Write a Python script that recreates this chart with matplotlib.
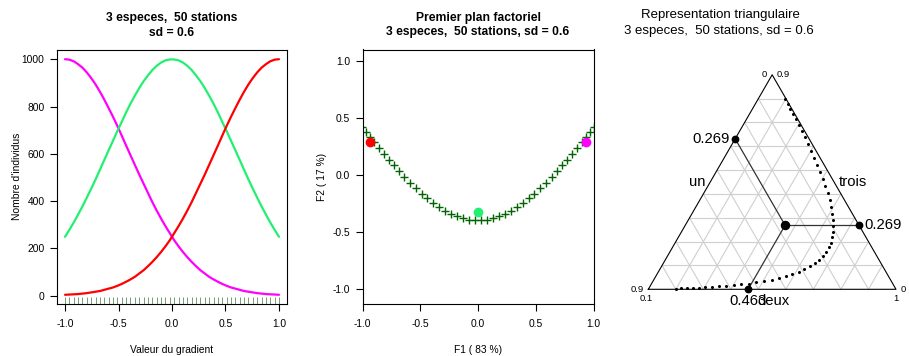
import numpy as np
import matplotlib
matplotlib.use("Agg")
import matplotlib.pyplot as plt

plt.rcParams['font.family'] = ['Liberation Sans', 'DejaVu Sans']

# Station positions along the gradient (50 stations)
gradient = [-1.000, -0.959, -0.918, -0.878, -0.837, -0.796, -0.755, -0.714, -0.673, -0.633,
            -0.592, -0.551, -0.510, -0.469, -0.429, -0.388, -0.347, -0.306, -0.265, -0.224,
            -0.184, -0.143, -0.102, -0.061, -0.020, 0.020, 0.061, 0.102, 0.143, 0.184,
            0.224, 0.265, 0.306, 0.347, 0.388, 0.429, 0.469, 0.510, 0.551, 0.592,
            0.633, 0.673, 0.714, 0.755, 0.796, 0.837, 0.878, 0.918, 0.959, 1.000]

# Abundances of the three species at each station
un = [1000, 998, 991, 979, 964, 944, 920, 893, 862, 829,
      793, 756, 717, 676, 635, 594, 553, 512, 473, 434,
      396, 360, 326, 294, 264, 235, 209, 185, 163, 143,
      125, 108, 94, 80, 69, 59, 50, 42, 35, 30,
      25, 20, 17, 14, 11, 9, 7, 6, 5, 4]
deux = [249, 279, 310, 343, 378, 415, 453, 492, 533, 574,
        615, 656, 697, 736, 775, 812, 846, 878, 907, 932,
        954, 972, 986, 995, 999, 999, 995, 986, 972, 954,
        932, 907, 878, 846, 812, 775, 736, 697, 656, 615,
        574, 533, 492, 453, 415, 378, 343, 310, 279, 249]
trois = [4, 5, 6, 7, 9, 11, 14, 17, 20, 25,
         30, 35, 42, 50, 59, 69, 80, 94, 108, 125,
         143, 163, 185, 209, 235, 264, 294, 326, 360, 396,
         434, 473, 512, 553, 594, 635, 676, 717, 756, 793,
         829, 862, 893, 920, 944, 964, 979, 991, 998, 1000]

species = ["un", "deux", "trois"]
species_colors = ["#FF00FF", "#22F070", "#FF0000"]

x_ticks = [-1.0, -0.5, 0.0, 0.5, 1.0]
x_ticklabels = ["-1.0", "-0.5", "0.0", "0.5", "1.0"]
y_ticks_counts = [0, 200, 400, 600, 800, 1000]
y_ticks_ca = [-1.0, -0.5, 0.0, 0.5, 1.0]
y_ticklabels_ca = ["-1.0", "-0.5", "0.0", "0.5", "1.0"]

# Triangle frame: lower bounds of each axis, common width
tri_min = [0.0, 0.1, 0.0]
tri_width = 0.9

W, H = 909, 356
fig = plt.figure(figsize=(W / 100, H / 100), dpi=100)


def px_axes(x0, y0, x1, y1):
    return fig.add_axes([x0 / W, 1 - y1 / H, (x1 - x0) / W, (y1 - y0) / H])


tick_fs = 7.4
lab_fs = 7.4
title_fs = 8.7


def style_axes(ax):
    for s in ax.spines.values():
        s.set_linewidth(0.8)
    ax.tick_params(direction='out', length=5, width=0.8, labelsize=tick_fs)
    ax.tick_params(axis='x', pad=5.5)
    ax.tick_params(axis='y', pad=4)


# ---------- Panel 1 : response curves ----------
ax1 = px_axes(57, 49.5, 287, 304)
table = np.column_stack([un, deux, trois]).astype(float)
for k in range(3):
    ax1.plot(gradient, table[:, k], color=species_colors[k], lw=1.6, solid_capstyle='round')
ax1.vlines(gradient, 0, 0.028, transform=ax1.get_xaxis_transform(),
           color="#5f8f5f", lw=0.6)
ax1.set_xlim(-1.075, 1.075)
ax1.set_ylim(-35, 1041)
ax1.set_xticks(x_ticks)
ax1.set_xticklabels(x_ticklabels)
ax1.set_yticks(y_ticks_counts)
style_axes(ax1)
ax1.set_xlabel("Valeur du gradient", fontsize=lab_fs, labelpad=11.5)
ax1.set_ylabel("Nombre d'individus", fontsize=lab_fs, labelpad=0)
fig.text(172 / W, 1 - 18.3 / H, "3 especes,  50 stations", ha='center', va='center',
         fontsize=title_fs, fontweight='bold')
fig.text(172 / W, 1 - 32.7 / H, "sd = 0.6", ha='center', va='center',
         fontsize=title_fs, fontweight='bold')

# ---------- Panel 2 : correspondence analysis ----------
P = table / table.sum()
r = P.sum(axis=1)
c = P.sum(axis=0)
S = (P - np.outer(r, c)) / np.sqrt(np.outer(r, c))
U, sv, Vt = np.linalg.svd(S, full_matrices=False)
eig = sv ** 2
pct = 100 * eig / eig.sum()
rows = U[:, :2] * sv[:2] / np.sqrt(r)[:, None]
cols = Vt.T[:, :2] * sv[:2] / np.sqrt(c)[:, None]
s1 = -np.sign(cols[2, 0])
s2 = -np.sign(cols[1, 1])
rows = rows * np.array([s1, s2])
cols = cols * np.array([s1, s2])

ax2 = px_axes(362.5, 49.5, 593.5, 304)
ax2.plot(rows[:, 0], rows[:, 1], ls='none', marker='+', ms=6, mew=1.0, color="#006400")
for k in range(3):
    ax2.plot(cols[k, 0], cols[k, 1], ls='none', marker='o', ms=7,
             color=species_colors[k], mec='none')
ax2.set_xlim(-1.0, 1.0)
ax2.set_ylim(-1.128, 1.10)
ax2.set_xticks(x_ticks)
ax2.set_xticklabels(x_ticklabels)
ax2.set_yticks(y_ticks_ca)
ax2.set_yticklabels(y_ticklabels_ca)
style_axes(ax2)
ax2.set_xlabel(f"F1 ( {pct[0]:.0f} %)", fontsize=lab_fs, labelpad=11.5)
ax2.set_ylabel(f"F2 ( {pct[1]:.0f} %)", fontsize=lab_fs, labelpad=3.6)
fig.text(478 / W, 1 - 18.3 / H, "Premier plan factoriel", ha='center', va='center',
         fontsize=title_fs, fontweight='bold')
fig.text(478 / W, 1 - 32.5 / H, "3 especes,  50 stations, sd = 0.6", ha='center',
         va='center', fontsize=title_fs, fontweight='bold')

# ---------- Panel 3 : triangular plot ----------
side = 247.7
ax3 = px_axes(620, 40, 909, 330)
ax3.set_xlim((620 - 648.3) / side, (909 - 648.3) / side)
ax3.set_ylim((289.3 - 330) / side, (289.3 - 40) / side)
ax3.axis('off')

A = np.array([0.0, 0.0])
B = np.array([1.0, 0.0])
C = np.array([0.5, np.sqrt(3) / 2])


def to_tri(p):
    a = (p[..., 0] - tri_min[0]) / tri_width
    b = (p[..., 1] - tri_min[1]) / tri_width
    cc = (p[..., 2] - tri_min[2]) / tri_width
    x = a * A[0] + b * B[0] + cc * C[0]
    y = a * A[1] + b * B[1] + cc * C[1]
    return x, y


# grid
grid_col = "#CFCFCF"
for k in range(1, 9):
    t = k / 9
    for p, q in [(A + t * (C - A), B + t * (C - B)),
                 (A + t * (B - A), A + t * (C - A)),
                 (B + t * (A - B), B + t * (C - B))]:
        ax3.plot([p[0], q[0]], [p[1], q[1]], color=grid_col, lw=0.8, zorder=1)
ax3.plot([A[0], B[0], C[0], A[0]], [A[1], B[1], C[1], A[1]], color='black', lw=0.8, zorder=2)

prop = table / table.sum(axis=1, keepdims=True)
tx, ty = to_tri(prop)
ax3.plot(tx, ty, ls='none', marker='o', ms=2.2, color='black', mec='none', zorder=4)

mean = prop.mean(axis=0)
mx, my = to_tri(mean)
p_un = C + (mean[0] - tri_min[0]) / tri_width * (A - C)
p_deux = A + (mean[1] - tri_min[1]) / tri_width * (B - A)
p_trois = B + (mean[2] - tri_min[2]) / tri_width * (C - B)
for p in (p_un, p_deux, p_trois):
    ax3.plot([mx, p[0]], [my, p[1]], color='#333333', lw=0.9, zorder=3)
    ax3.plot(p[0], p[1], ls='none', marker='o', ms=4.6, color='black', zorder=5)
ax3.plot(mx, my, ls='none', marker='o', ms=5.8, color='black', zorder=5)

big = 10.7
off = 0.02
ax3.text(p_un[0] - off, p_un[1], f"{mean[0]:.3f}", ha='right', va='center', fontsize=big)
ax3.text(p_trois[0] + off, p_trois[1], f"{mean[2]:.3f}", ha='left', va='center', fontsize=big)
ax3.text(p_deux[0], p_deux[1] - off, f"{mean[1]:.3f}", ha='center', va='top', fontsize=big)

mAC = (A + C) / 2
mBC = (B + C) / 2
mAB = (A + B) / 2
ax3.text(mAC[0] - off, mAC[1], species[0], ha='right', va='center', fontsize=big)
ax3.text(mBC[0] + off, mBC[1], species[2], ha='left', va='center', fontsize=big)
ax3.text(mAB[0] + 0.005, mAB[1] - off, species[1], ha='center', va='top', fontsize=big)

small = 6.8
fmt = lambda v: f"{v:g}"
ax3.text(C[0] - 0.022, C[1], fmt(tri_min[0]), ha='right', va='center', fontsize=small)
ax3.text(C[0] + 0.018, C[1], fmt(tri_min[2] + tri_width), ha='left', va='center', fontsize=small)
ax3.text(A[0] - 0.018, A[1], fmt(tri_min[0] + tri_width), ha='right', va='center', fontsize=small)
ax3.text(A[0] - 0.01, A[1] - 0.018, fmt(tri_min[1]), ha='center', va='top', fontsize=small)
ax3.text(B[0], B[1] - 0.018, fmt(tri_min[1] + tri_width), ha='center', va='top', fontsize=small)
ax3.text(B[0] + 0.018, B[1], fmt(tri_min[2]), ha='left', va='center', fontsize=small)

fig.text(720 / W, 1 - 15 / H, "Representation triangulaire", ha='center', va='center',
         fontsize=9.5)
fig.text(719 / W, 1 - 31 / H, "3 especes,  50 stations, sd = 0.6", ha='center', va='center',
         fontsize=9.5)

fig.savefig("out.png", dpi=100)
